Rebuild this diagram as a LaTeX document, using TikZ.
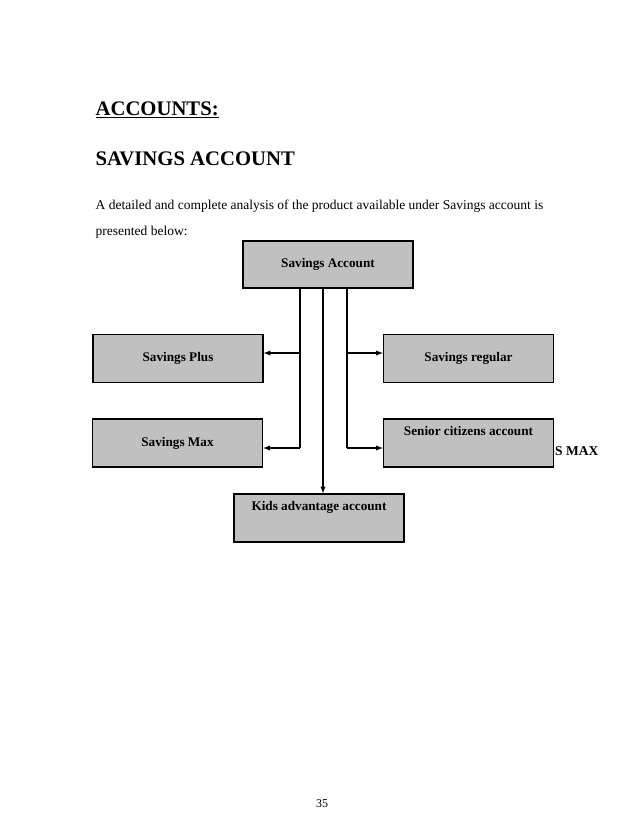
\documentclass[tikz,border=0pt]{standalone}
\usepackage{fontspec}
\setmainfont{Liberation Serif}
\usepackage{tikz}
\usetikzlibrary{arrows.meta}
\definecolor{boxgray}{RGB}{192,192,192}

\begin{document}
\begin{tikzpicture}[x=1pt,y=-1pt,>=latex,line width=1.3pt,
  acct/.style={draw,fill=boxgray,minimum width=170pt,minimum height=48pt,inner sep=0pt,
    font=\bfseries\fontsize{13.2}{15}\selectfont},
  accttop/.style={acct,text depth=24pt},
  txt/.style={inner sep=0pt,anchor=base west}]
  \useasboundingbox (0,0) rectangle (638,826);
  % page heading and intro
  \node[txt,font=\bfseries\fontsize{20.7}{24}\selectfont] (head) at (95,116) {\underline{ACCOUNTS:}};
  \node[txt,font=\bfseries\fontsize{20.7}{24}\selectfont] (sub) at (95,166) {SAVINGS ACCOUNT};
  \node[txt,font=\fontsize{13.5}{15}\selectfont] (intro1) at (95,210) {A detailed and complete analysis of the product available under Savings account is};
  \node[txt,font=\fontsize{13.5}{15}\selectfont] (intro2) at (95,235) {presented below:};
  % stray text partly hidden behind the box
  \node[inner sep=0pt,anchor=base east,font=\bfseries\fontsize{13.5}{15}\selectfont] (stray) at (599,455) {SAVINGS MAX};
  % the boxes
  \node[acct,minimum height=47pt] (sav) at (328,264.5) {Savings Account};
  \node[acct] (plus) at (178,358.5) {Savings Plus};
  \node[acct] (reg) at (468.5,358.5) {Savings regular};
  \node[acct] (max) at (177.5,443) {Savings Max};
  \node[accttop] (senior) at (468.5,443) {Senior citizens account};
  \node[accttop] (kids) at (319,518) {Kids advantage account};
  % connectors
  \coordinate (lp) at (300,353);
  \coordinate (lm) at (300,448);
  \coordinate (rp) at (347,353);
  \coordinate (rm) at (347,448);
  \coordinate (mid) at (323,288);
  \draw (sav.south -| lm) -- (lm);
  \draw (sav.south -| rm) -- (rm);
  \draw[->] (lp) -- (lp -| plus.east);
  \draw[->] (lm) -- (lm -| max.east);
  \draw[->] (rp) -- (rp -| reg.west);
  \draw[->] (rm) -- (rm -| senior.west);
  \draw[->] (mid) -- (mid |- kids.north);
  % page number
  \node[inner sep=0pt,anchor=base,font=\fontsize{12}{14}\selectfont] (page) at (322,807) {35};
\end{tikzpicture}
\end{document}
